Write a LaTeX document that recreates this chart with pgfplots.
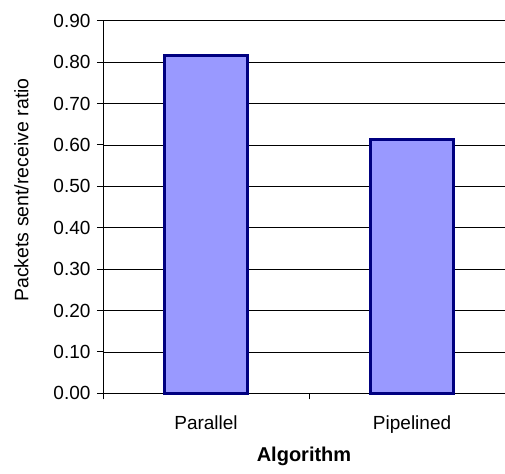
\documentclass[border=0pt]{standalone}
\usepackage{pgfplots}
\pgfplotsset{compat=1.18}
\usepackage{fontspec}
\setmainfont{Liberation Sans}
\definecolor{barfill}{HTML}{9999FF}
\definecolor{barline}{HTML}{000080}
\begin{document}
\begin{tikzpicture}[x=1pt,y=1pt]
\useasboundingbox (0,0) rectangle (505,473);
\begin{axis}[
  at={(103pt,79.7pt)}, anchor=south west,
  scale only axis,
  width=402pt, height=372.6pt,
  xmin=-0.5, xmax=1.451,
  ymin=0, ymax=0.9,
  axis x line=bottom, axis y line=left,
  axis line style={black, line width=1pt, -},
  xtick={0,1}, xticklabels={Parallel,Pipelined},
  minor xtick={-0.5,0.5},
  major x tick style={draw=none},
  minor x tick style={black, line width=1pt},
  ytick={0,0.1,...,0.9},
  ymajorgrids,
  grid style={black, line width=0.8pt},
  tick align=outside,
  major tick length=6pt, minor tick length=6pt,
  y tick style={black, line width=1pt},
  /pgf/number format/assume math mode=true,
  y tick label style={/pgf/number format/fixed, /pgf/number format/fixed zerofill, /pgf/number format/precision=2, xshift=-3pt},
  ticklabel style={font=\fontsize{19}{21}\selectfont},
  x tick label style={yshift=-13pt},
  xlabel={\textbf{Algorithm}},
  xlabel style={font=\fontsize{20}{22}\selectfont, yshift=-7pt},
  ylabel={Packets sent/receive ratio},
  ylabel style={font=\fontsize{19.5}{21}\selectfont, yshift=18pt, xshift=17pt},
  ybar, bar width=0.4,
  clip=false,
]
\addplot[fill=barfill, draw=barline, line width=3pt] coordinates {(0,0.815) (1,0.612)};
\end{axis}
\end{tikzpicture}
\end{document}
